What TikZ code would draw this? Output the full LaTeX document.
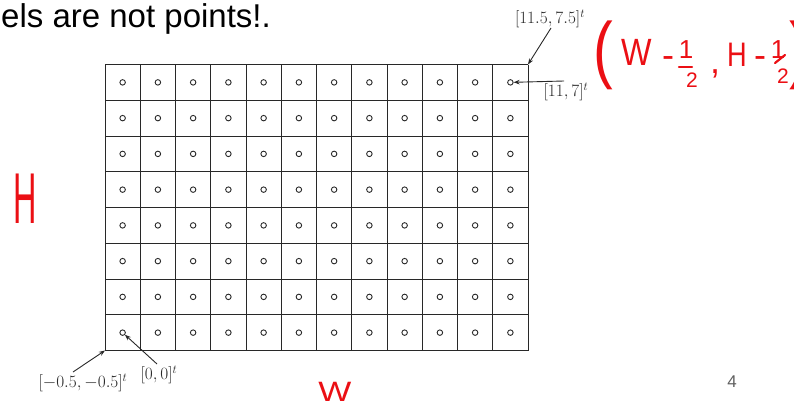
\documentclass[tikz,border=0pt]{standalone}
\usepackage{fontspec}
\newfontfamily\arialf{Liberation Sans}
\usetikzlibrary{arrows.meta}
\definecolor{inkgray}{RGB}{40,40,40}
\definecolor{handred}{RGB}{235,15,20}
\definecolor{pagegray}{RGB}{95,95,95}
\begin{document}
\begin{tikzpicture}[x=1pt,y=-1pt,
  gridline/.style={draw=inkgray, line width=1pt},
  pixdot/.style={circle, draw=inkgray, line width=0.9pt, inner sep=0pt, minimum size=5.5pt},
  coordlabel/.style={text=inkgray, font=\fontsize{18}{21}\selectfont, inner sep=0pt},
  pointer/.style={draw=inkgray, line width=0.9pt, -{Stealth[length=6pt,width=4.5pt]}},
  hand/.style={text=handred, font=\arialf\fontsize{36}{36}\selectfont, inner sep=0pt},
  handbar/.style={draw=handred, line width=2.2pt, line cap=round}]
\useasboundingbox (0,0) rectangle (794,410);
\clip (0,0) rectangle (794,410);
% title
\node[anchor=base west, font=\arialf\fontsize{33}{33}\selectfont, inner sep=0pt] (title) at (1,27) {els are not points!.};
% grid
\foreach \i in {0,...,12} \draw[gridline] ({105+\i*35.25},64.5) -- ({105+\i*35.25},350.5);
\foreach \j in {0,...,8} \draw[gridline] (105,{64.5+\j*35.75}) -- (528,{64.5+\j*35.75});
\foreach \i in {0,...,11} \foreach \j in {0,...,7}
  \node[pixdot] (c-\i-\j) at ({105+(\i+0.5)*35.25},{350.5-(\j+0.5)*35.75}) {};
\coordinate (corner-tr) at (528,64.5);
\coordinate (corner-bl) at (105,350.5);
% labels
\node[coordlabel] (lab-tr) at (550,19) {$[11.5,7.5]^t$};
\coordinate (tr-start) at (551,28);
\draw[pointer] (tr-start) -- (corner-tr);
\node[coordlabel] (lab-117) at (566,92) {$[11,7]^t$};
\coordinate (r-start) at (564,81);
\draw[pointer] (r-start) -- (c-11-7);
\node[coordlabel] (lab-bl) at (83,383) {$[-0.5,-0.5]^t$};
\coordinate (bl-start) at (73,372);
\draw[pointer] (bl-start) -- (corner-bl);
\node[coordlabel] (lab-00) at (159,375) {$[0,0]^t$};
\coordinate (o-start) at (157,364);
\draw[pointer] (o-start) -- (c-0-0);
% page number
\node[text=pagegray, font=\arialf\fontsize{17}{17}\selectfont, inner sep=0pt] (pagenum) at (732,382) {4};
% red handwriting
\node[hand, font=\arialf\fontsize{72}{72}\selectfont, xscale=0.45] (hH) at (25,199) {H};
\node[hand, font=\arialf\fontsize{28}{28}\selectfont, xscale=1.25] (hW) at (335,392) {W};
\node[hand, font=\arialf\fontsize{74}{74}\selectfont, xscale=0.8] (pl) at (603,55) {(};
\node[hand, font=\arialf\fontsize{38}{38}\selectfont, xscale=0.85] (eW) at (637,52) {W};
\node[hand] (em1) at (668,62) {-};
\node[hand, font=\arialf\fontsize{26}{26}\selectfont] (n1) at (686,50) {1};
\draw[handbar] (679,67) -- (692,67);
\node[hand, font=\arialf\fontsize{21}{21}\selectfont] (d1) at (692,80) {2};
\node[hand] (ec) at (715,74) {,};
\node[hand, font=\arialf\fontsize{34}{34}\selectfont, xscale=0.8] (eH) at (737,55) {H};
\node[hand] (em2) at (760,62) {-};
\node[hand, font=\arialf\fontsize{26}{26}\selectfont] (n2) at (778,50) {1};
\draw[handbar] (775,63) -- (785,55);
\node[hand, font=\arialf\fontsize{21}{21}\selectfont] (d2) at (783,76) {2};
\node[hand, font=\arialf\fontsize{74}{74}\selectfont, xscale=0.8] (pr) at (799,55) {)};
\end{tikzpicture}
\end{document}
